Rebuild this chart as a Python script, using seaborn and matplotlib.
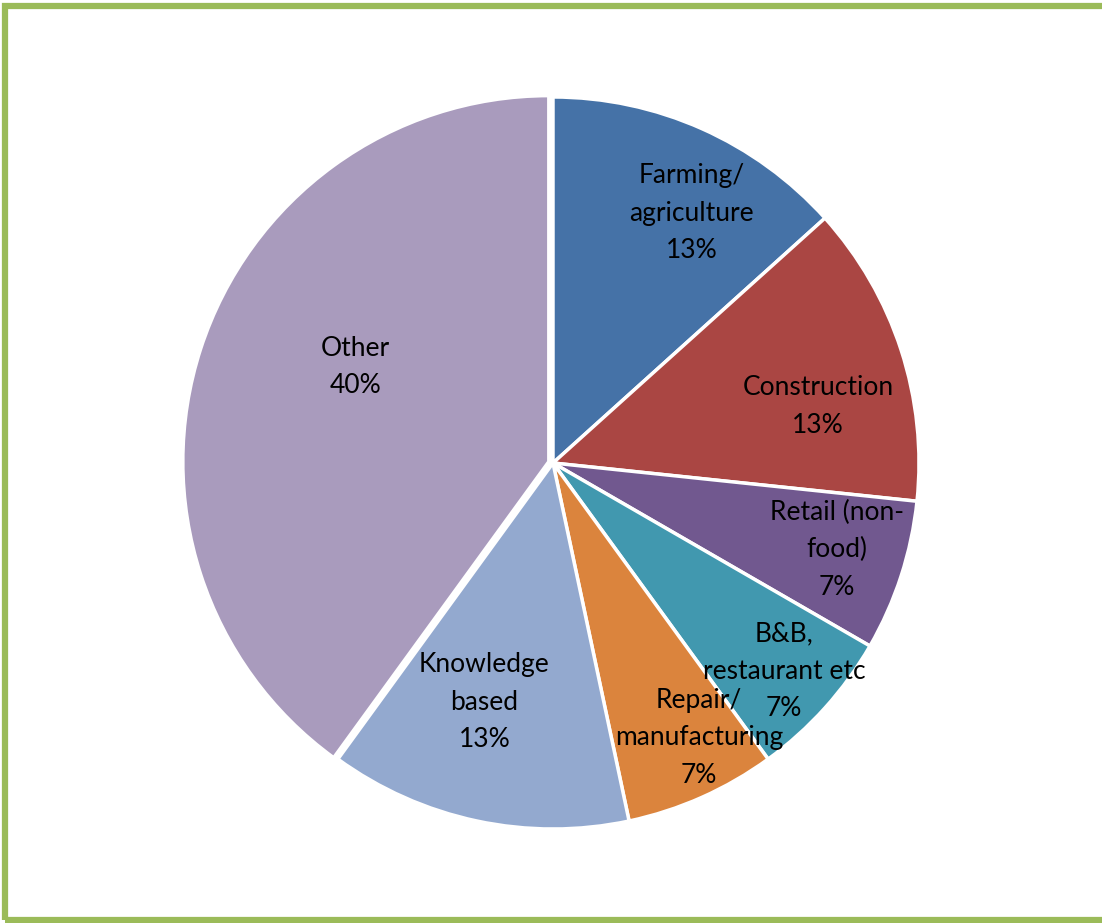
import numpy as np
import matplotlib
matplotlib.use("Agg")
import matplotlib.pyplot as plt
import seaborn as sns
from matplotlib.patches import Rectangle

# data (counts out of 15 -> 13%, 13%, 7%, 7%, 7%, 13%, 40%)
sectors = ['Farming/\nagriculture', 'Construction', 'Retail (non-\nfood)',
           'B&B,\nrestaurant etc', 'Repair/\nmanufacturing', 'Knowledge\nbased', 'Other']
counts = [2, 2, 1, 1, 1, 2, 6]
colors = ['#4572A7', '#AA4643', '#71588F', '#4198AF', '#DB843D', '#93A9CF', '#A99BBD']

# label placement: radial distance and angle tweak (degrees) per slice
label_r = [0.78, 0.74, 0.81, 0.85, 0.85, 0.68, 0.60]
label_dang = [-5, -6, 1, 0, 4, -4, -8]

sns.set_theme(style="white")
plt.rcParams['font.family'] = ['Lato', 'DejaVu Sans']

W, H = 1102, 923
fig = plt.figure(figsize=(W / 100, H / 100), dpi=100)
cx, cy, R = 553, H - 463, 366
ax = fig.add_axes([(cx - R) / W, (cy - R) / H, 2 * R / W, 2 * R / H])

explode = [0, 0, 0, 0, 0, 0, 0.012]
wedges, _ = ax.pie(counts, colors=colors, startangle=90, counterclock=False,
                   explode=explode, radius=1,
                   wedgeprops=dict(edgecolor='white', linewidth=2.5))
ax.set_xlim(-1, 1)
ax.set_ylim(-1, 1)
ax.set_aspect('equal')
ax.axis('off')

total = sum(counts)
for w, name, c, r, da in zip(wedges, sectors, counts, label_r, label_dang):
    mid = np.deg2rad((w.theta1 + w.theta2) / 2 + da)
    pct = round(100 * c / total)
    ax.text(r * np.cos(mid), r * np.sin(mid), f'{name}\n{pct}%',
            ha='center', va='center', fontsize=19, color='black',
            linespacing=1.62)

# green frame
fig.patches.append(Rectangle((5 / W, 3 / H), (W - 3) / W, (H - 9) / H,
                             transform=fig.transFigure, fill=False,
                             edgecolor='#9BBB59', linewidth=4.5))

fig.savefig('out.png', dpi=100)
